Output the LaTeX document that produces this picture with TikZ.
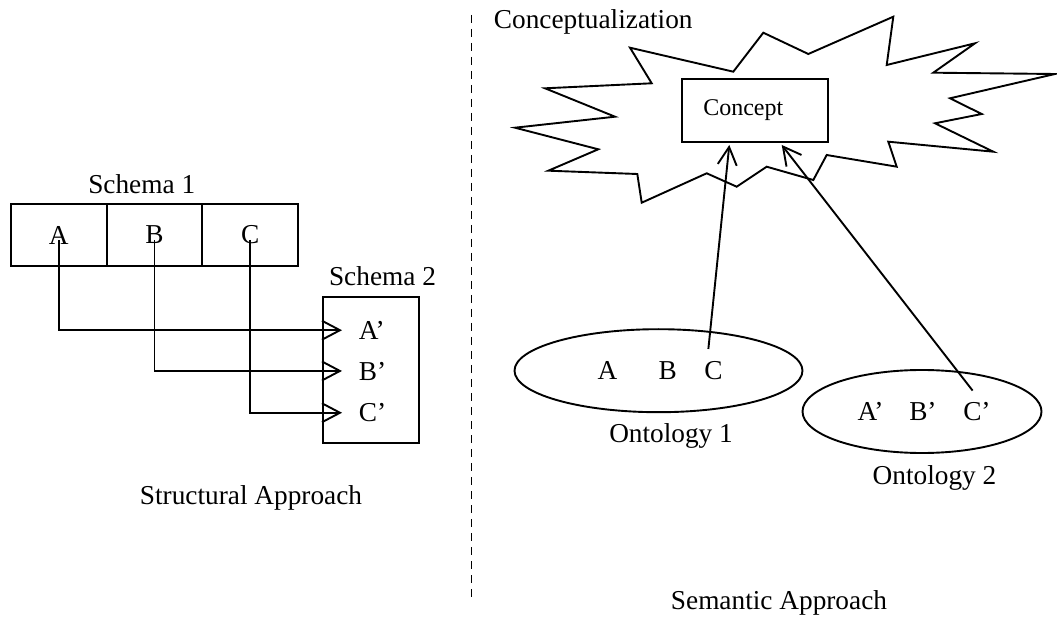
\documentclass[tikz,border=0pt]{standalone}
\usepackage{fontspec}
\setmainfont{Liberation Serif}
\usetikzlibrary{arrows.meta,shapes.geometric,calc}
\newcommand\bigfs{\fontsize{27.3pt}{32pt}\selectfont}
\newcommand\smallfs{\fontsize{24pt}{28pt}\selectfont}
\begin{document}
\begin{tikzpicture}[x=1pt,y=-1pt,line width=1.9pt,
  lbl/.style={inner sep=0pt,font=\bigfs},
  cell/.style={draw,minimum width=95.7pt,minimum height=62pt,inner sep=0pt,font=\bigfs},
  link/.style={-{Straight Barb[length=18pt,width=19pt]}},
]
\useasboundingbox (0,0) rectangle (1057,617);

% ---------- structural approach ----------
\node[lbl,anchor=base] (s1) at (141.7,193.3) {Schema 1};
\node[cell] (cA) at (58.8,235) {A};
\node[cell] (cB) at (154.5,235) {B};
\node[cell] (cC) at (250.2,235) {C};

\node[draw,minimum width=96pt,minimum height=146pt,inner sep=0pt] (s2box) at (371,370) {};
\node[lbl,anchor=base] (s2) at (382.5,285.7) {Schema 2};
\node[lbl,anchor=base west] (pA) at (358,339.3) {A’};
\node[lbl,anchor=base west] (pB) at (358,380) {B’};
\node[lbl,anchor=base west] (pC) at (358,421.7) {C’};

\draw[link] ($(cA.center)+(0,5)$) |- ($(pA.west)+(-16,0)$);
\draw[link] ($(cB.center)+(0,5)$) |- ($(pB.west)+(-16,0)$);
\draw[link] ($(cC.center)+(0,5)$) |- ($(pC.west)+(-16,0)$);

\node[lbl,anchor=base] (sa) at (251,504) {Structural Approach};

% ---------- divider ----------
\draw[line width=1.6pt,dash pattern=on 8pt off 6pt] (471.5,15) -- (471.5,597);

% ---------- semantic approach ----------
\node[lbl,anchor=base west] (cz) at (493,29) {Conceptualization};

\draw (630,47.7) -- (733.3,71.7) -- (763.3,32.7) -- (808.3,54) -- (893.3,16.7)
  -- (886.7,65) -- (975,43.3) -- (933.3,72.7) -- (1055,74) -- (950,98.3)
  -- (981.7,114) -- (935,123.3) -- (993.3,151.7) -- (888.3,141.7) -- (896.7,166.7)
  -- (826.7,155) -- (813.3,180) -- (766.7,166.7) -- (736.7,186.7) -- (706.7,173.3)
  -- (641.7,202.7) -- (637.3,174) -- (548.3,170.7) -- (598.3,149.3) -- (515,127.7)
  -- (615,116.7) -- (545,88.3) -- (651.7,83.3) -- cycle;

\node[draw,font=\smallfs,text width=102.8pt,align=left,inner xsep=21.6pt,
      inner ysep=0pt,minimum height=62.7pt] (concept) at (754.7,110.35) {Concept};

\node[draw,ellipse,minimum width=288pt,minimum height=83pt,inner sep=0pt] (ont1) at (658.5,370.7) {};
\node[draw,ellipse,minimum width=239pt,minimum height=83pt,inner sep=0pt] (ont2) at (922,411.5) {};

\node[lbl,anchor=base west] (o1a) at (596.7,379) {A};
\node[lbl,anchor=base west] (o1b) at (657.7,379) {B};
\node[lbl,anchor=base west] (o1c) at (703.3,379) {C};
\node[lbl,anchor=base west] (o2a) at (856.7,420.7) {A’};
\node[lbl,anchor=base west] (o2b) at (908.3,420.7) {B’};
\node[lbl,anchor=base west] (o2c) at (962.3,420.7) {C’};

\node[lbl,anchor=base west] (on1) at (608.3,442.7) {Ontology 1};
\node[lbl,anchor=base west] (on2) at (871.7,484) {Ontology 2};
\node[lbl,anchor=base west] (sem) at (670,609) {Semantic Approach};

\draw[link] ($(o1c.north)+(-5,-11)$) -- ($(concept.south)+(-25.4,2.3)$);
\draw[link] ($(o2c.north)+(-4.3,-11)$) -- ($(concept.south)+(27,2.3)$);
\end{tikzpicture}
\end{document}
